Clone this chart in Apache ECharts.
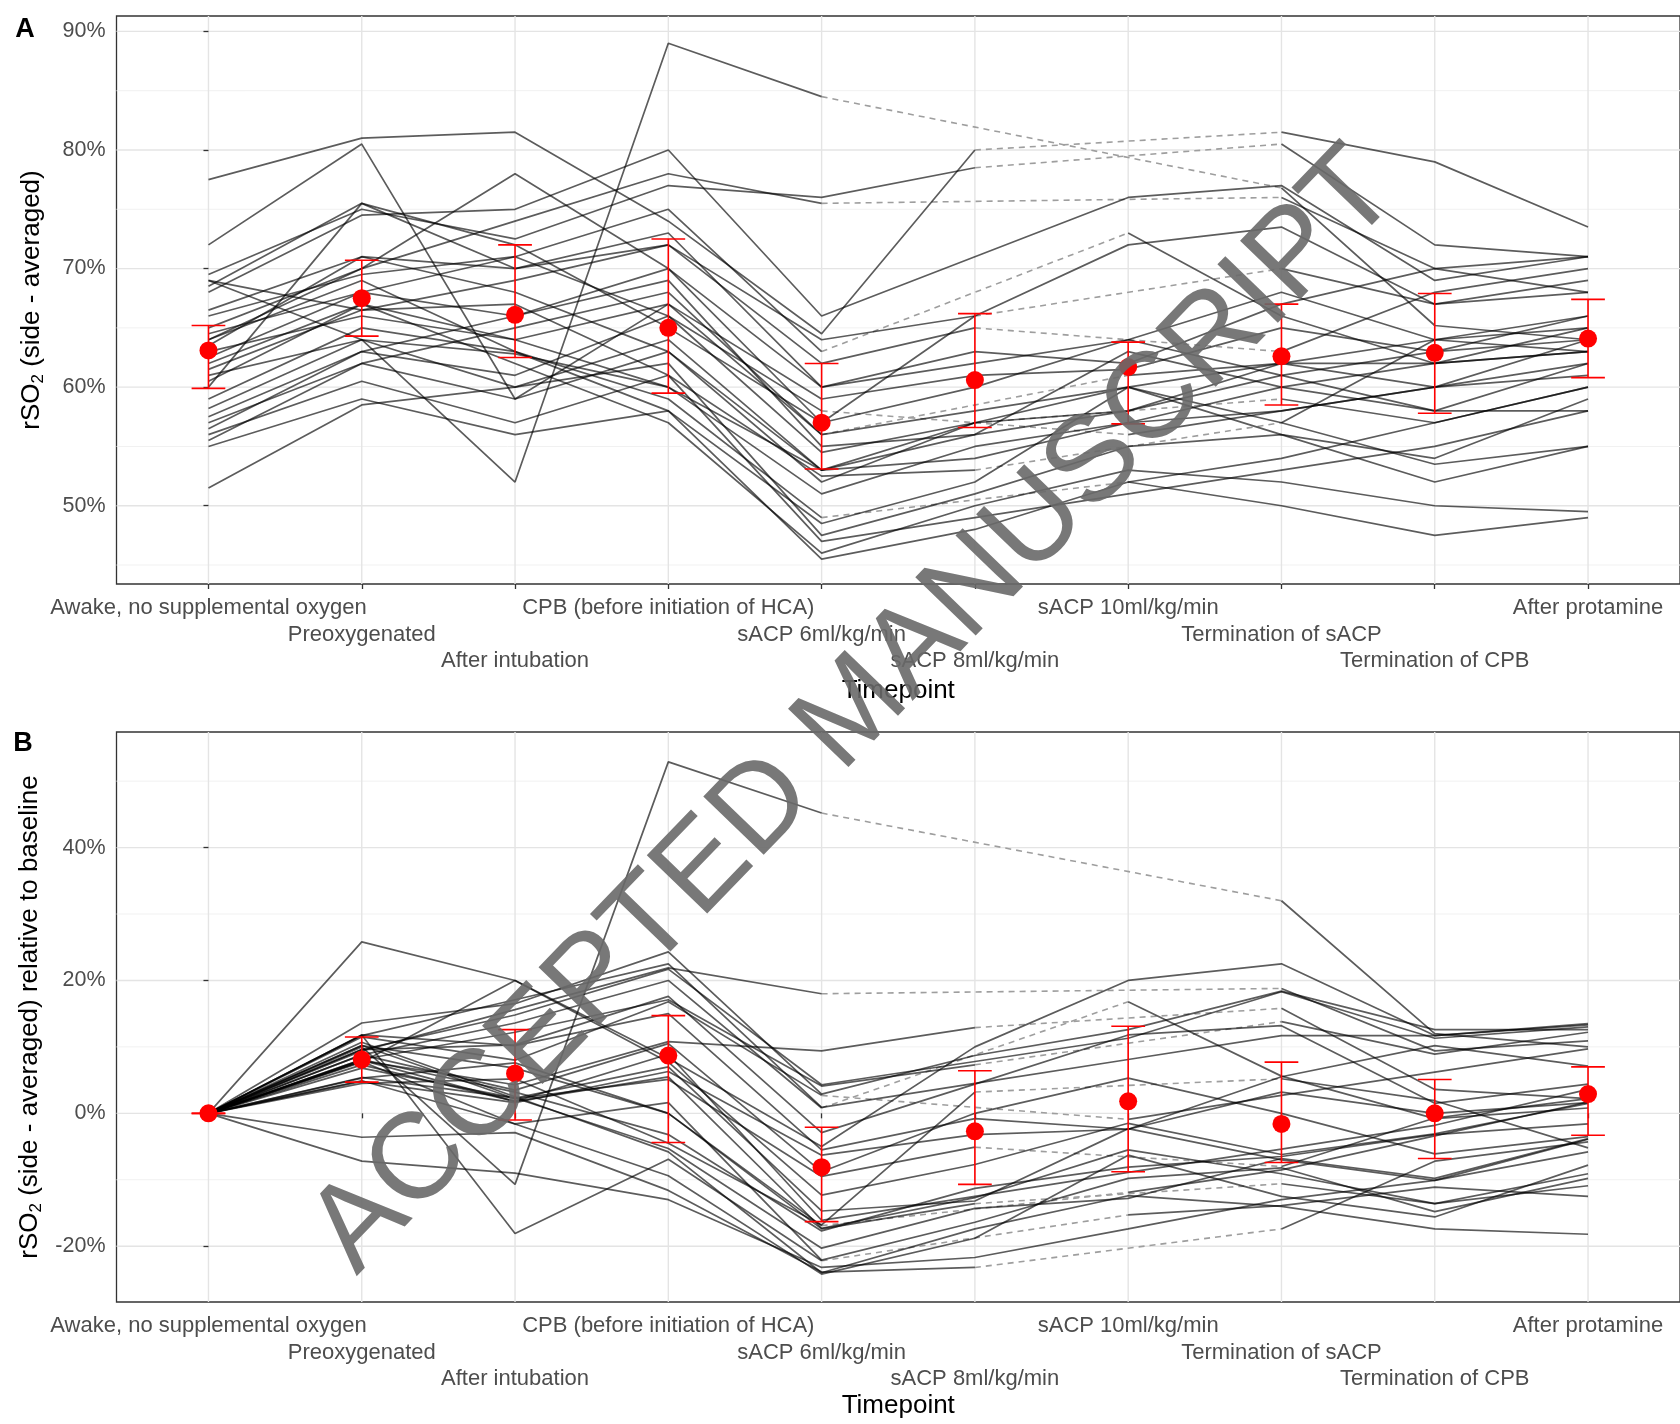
<!DOCTYPE html>
<html>
<head>
<meta charset="utf-8">
<script src="https://cdn.jsdelivr.net/npm/echarts@6/dist/echarts.min.js"></script>
<style>
html,body{margin:0;padding:0;background:#fff;}
#chart{width:1680px;height:1424px;}
</style>
</head>
<body>
<div id="chart"></div>
<script>
// ---- data ----
const timepoints = ["Awake, no supplemental oxygen","Preoxygenated","After intubation","CPB (before initiation of HCA)","sACP 6ml/kg/min","sACP 8ml/kg/min","sACP 10ml/kg/min","Termination of sACP","Termination of CPB","After protamine"];

// panel A: rSO2 (side-averaged), % per subject
const rso2Abs = [
 [77.5, 81, 81.5, 74, 64.5, 80, null, 81.5, 79, 73.5],
 [72, 80.5, 59, 67, 56, null, 61, 62, 64, 63],
 [64, 70, 74, 78, 75.5, null, null, 76, 70, 71],
 [69, 64, 62.8, 60, 53, 54, 57, 60, 62, 65],
 [69, 66.5, 67, 61, 52.5, 53, null, 57, 64, 66],
 [68.5, 75.5, 70, 72, 62, 65, null, 63, 68, 70],
 [68, 74.5, 75, 80, 66, 71, 76, 77, 69, 71],
 [66.5, 71, 68, 63, 53, 57, 58, 62, 60, 64],
 [69.5, 75, 72.5, 77, 76, 78.5, null, 80.5, 72, 71],
 [65, 70, 78, 70, 57, 60, 64, 61, 63, 66],
 [64.5, 68, 66, 69, 55, 56, 63, 60, 58, 62],
 [64, 69, 63, 58, 48.5, 52, 60, 56, 54, 59],
 [63.5, 71, 70, 73, 60, 63, 62, 67, 70, 68],
 [63, 66, 64, 67, 59, 61, 61.5, 65, 63, 64],
 [62.5, 68, 71, 75, 63, null, 73, 66, 62, 63],
 [62, 67, 64, 60, 51, 55, 57, 58, 60, 61],
 [61.5, 66.5, 69, 72, 64, 66, null, 70, 67, 69],
 [61, 64, 60, 62, 47.5, 51, 55, 56, 52, 55],
 [60.5, 67, 62, 57, 46, 50, 53, 52, 50, 49.5],
 [60, 75.5, 72, 65, 57, 66, 72, 73.5, 67, 68],
 [59, 65, 63, 59, 49, null, 52, 54, 57, 60],
 [58.2, 64, 52, 89, 84.5, null, null, 76.8, 65.2, 64],
 [57.5, 63, 66, 70, 60, 62, 64, 68, 64, 65],
 [57, 62, 59, 63, 52, 57, 60, 57, 53.5, 55],
 [56.5, 63, 61, 66, 58, null, 56, 58, 60, 62],
 [56, 60.5, 57, 61, 47, 49, 51, 53, 55, 58],
 [55.5, 62, 65, 68, 56, 58, 60, 62, 62, 63],
 [55, 59, 56, 58, 45.5, 48, 52, 50, 47.5, 49],
 [51.5, 58.5, 60, 64, 53, 56, 58, 61, 58, 58],
 [66, 69.5, 71, 66, 54.5, 57, null, 59, 57, 60]
];

// panel B: relative to baseline, % per subject
const rso2Rel = [
 [0, 4.5, 5.2, -4.5, -16.8, 3.2, null, 5.2, 1.9, -5.2],
 [0, 11.8, -18.1, -6.9, -22.2, null, -15.3, -13.9, -11.1, -12.5],
 [0, 9.4, 15.6, 21.9, 18.0, null, null, 18.8, 9.4, 10.9],
 [0, -7.2, -9.0, -13.0, -23.2, -21.7, -17.4, -13.0, -10.1, -5.8],
 [0, -3.6, -2.9, -11.6, -23.9, -23.2, null, -17.4, -7.2, -4.3],
 [0, 10.2, 2.2, 5.1, -9.5, -5.1, null, -8.0, -0.7, 2.2],
 [0, 9.6, 10.3, 17.6, -2.9, 4.4, 11.8, 13.2, 1.5, 4.4],
 [0, 6.8, 2.3, -5.3, -20.3, -14.3, -12.8, -6.8, -9.8, -3.8],
 [0, 7.9, 4.3, 10.8, 9.4, 12.9, null, 15.8, 3.6, 2.2],
 [0, 7.7, 20.0, 7.7, -12.3, -7.7, -1.5, -6.2, -3.1, 1.5],
 [0, 5.4, 2.3, 7.0, -14.7, -13.2, -2.3, -7.0, -10.1, -3.9],
 [0, 7.8, -1.6, -9.4, -24.2, -18.8, -6.3, -12.5, -15.6, -7.8],
 [0, 11.8, 10.2, 15.0, -5.5, -0.8, -2.4, 5.5, 10.2, 7.1],
 [0, 4.8, 1.6, 6.3, -6.3, -3.2, -2.4, 3.2, 0, 1.6],
 [0, 8.8, 13.6, 20.0, 0.8, null, 16.8, 5.6, -0.8, 0.8],
 [0, 8.1, 3.2, -3.2, -17.7, -11.3, -8.1, -6.5, -3.2, -1.6],
 [0, 8.1, 12.2, 17.1, 4.1, 7.3, null, 13.8, 8.9, 12.2],
 [0, 4.9, -1.6, 1.6, -22.1, -16.4, -9.8, -8.2, -14.8, -9.8],
 [0, 10.7, 2.5, -5.8, -24.0, -17.4, -12.4, -14.0, -17.4, -18.2],
 [0, 25.8, 20.0, 8.3, -5.0, 10.0, 20.0, 22.5, 11.7, 13.3],
 [0, 10.2, 6.8, 0, -16.9, null, -11.9, -8.5, -3.4, 1.7],
 [0, 10.0, -10.7, 52.9, 45.2, null, null, 32.0, 12.0, 10.0],
 [0, 9.6, 14.8, 21.7, 4.3, 7.8, 11.3, 18.3, 11.3, 13.0],
 [0, 8.8, 3.5, 10.5, -8.8, 0, 5.3, 0, -6.1, -3.5],
 [0, 11.5, 8.0, 16.8, 2.7, null, -0.9, 2.7, 6.2, 9.7],
 [0, 8.0, 1.8, 8.9, -16.1, -12.5, -8.9, -5.4, -1.8, 3.6],
 [0, 11.7, 17.1, 22.5, 0.9, 4.5, 8.1, 11.7, 11.7, 13.5],
 [0, 7.3, 1.8, 5.5, -17.3, -12.7, -5.5, -9.1, -13.6, -10.9],
 [0, 13.6, 16.5, 24.3, 2.9, 8.7, 12.6, 18.4, 12.6, 12.6],
 [0, 5.3, 7.6, 0, -17.4, -13.6, null, -10.6, -13.6, -9.1]
];

// summary points with error bars
const meanAbs = [63.1, 67.5, 66.1, 65.0, 57.0, 60.6, 61.7, 62.6, 62.9, 64.1];
const lowAbs  = [59.9, 64.3, 62.5, 59.5, 53.1, 56.6, 56.9, 58.5, 57.8, 60.8];
const highAbs = [65.2, 70.7, 72.0, 72.5, 62.0, 66.2, 63.8, 67.0, 67.9, 67.4];
const meanRel = [0, 8.1, 6.0, 8.7, -8.1, -2.7, 1.8, -1.6, 0.0, 2.9];
const lowRel  = [0, 4.7, -1.0, -4.4, -16.3, -10.7, -8.8, -7.4, -6.8, -3.3];
const highRel = [0, 11.5, 12.6, 14.7, -2.1, 6.4, 13.1, 7.7, 5.1, 7.0];

// axis ticks
const majorAbs = [50, 60, 70, 80, 90];
const minorAbs = [45, 55, 65, 75, 85];
const majorRel = [-20, 0, 20, 40];
const minorRel = [-10, 10, 30, 50];
const catIdx = [0,1,2,3,4,5,6,7,8,9];
const labelRows = [[0,3,6,9],[1,4,7],[2,5,8]];

// ---- chart ----
const FONT = '"Liberation Sans", Arial, Helvetica, sans-serif';
const chart = echarts.init(document.getElementById('chart'), null, {renderer:'canvas'});

function gridRender(params, api){
  const cs = params.coordSys;
  const kind = api.value(2);
  const p = api.coord([api.value(0), api.value(1)]);
  if (kind === 2) {
    return {type:'line', shape:{x1:p[0], y1:cs.y, x2:p[0], y2:cs.y+cs.height},
      style:{stroke:'#e4e4e4', lineWidth:1.4}};
  }
  return {type:'line', shape:{x1:cs.x, y1:p[1], x2:cs.x+cs.width, y2:p[1]},
    style:{stroke: kind===1 ? '#e4e4e4' : '#f1f1f1', lineWidth: kind===1 ? 1.4 : 1}};
}
function errRender(params, api){
  const x = api.value(0), lo = api.value(1), hi = api.value(2);
  const pl = api.coord([x, lo]), ph = api.coord([x, hi]);
  const l = api.coord([x-0.11, lo])[0], r = api.coord([x+0.11, lo])[0];
  const st = {stroke:'#ff0000', lineWidth:1.6};
  return {type:'group', children:[
    {type:'line', shape:{x1:pl[0], y1:pl[1], x2:ph[0], y2:ph[1]}, style:st},
    {type:'line', shape:{x1:l, y1:pl[1], x2:r, y2:pl[1]}, style:st},
    {type:'line', shape:{x1:l, y1:ph[1], x2:r, y2:ph[1]}, style:st}
  ]};
}
function gapData(row){
  // keep only points that border a missing stretch
  const idx = [];
  row.forEach((v,i)=>{ if (v!==null) idx.push(i); });
  const out = row.map(()=>null);
  for (let k=0;k<idx.length-1;k++){
    if (idx[k+1]-idx[k] > 1){ out[idx[k]] = row[idx[k]]; out[idx[k+1]] = row[idx[k+1]]; }
  }
  return out.map((v,i)=>[i, v]);
}

const series = [];
function addPanel(gi, xi, rows, mean, low, high, major, minor){
  const gdata = [];
  major.forEach(v=>gdata.push([0, v, 1]));
  minor.forEach(v=>gdata.push([0, v, 0]));
  catIdx.forEach(i=>gdata.push([i, major[0], 2]));
  series.push({type:'custom', xAxisIndex:xi, yAxisIndex:gi, renderItem:gridRender,
    data:gdata, z:0, silent:true, animation:false, clip:true});
  rows.forEach(row=>{
    if (row.some(v=>v===null)) {
      series.push({type:'line', xAxisIndex:xi, yAxisIndex:gi, data:gapData(row),
        connectNulls:true, showSymbol:false, symbol:'none', silent:true, animation:false, z:1,
        lineStyle:{color:'#9e9e9e', width:1.6, type:[6,5]}});
    }
    series.push({type:'line', xAxisIndex:xi, yAxisIndex:gi, data:row.map((v,i)=>[i,v]),
      connectNulls:false, showSymbol:false, symbol:'none', silent:true, animation:false, z:2,
      lineStyle:{color:'rgba(0,0,0,0.64)', width:1.7}});
  });
  series.push({type:'custom', xAxisIndex:xi, yAxisIndex:gi, renderItem:errRender,
    data: catIdx.map(i=>[i, low[i], high[i]]), encode:{x:0, y:[1,2]}, z:5, silent:true, animation:false});
  series.push({type:'scatter', xAxisIndex:xi, yAxisIndex:gi, data: catIdx.map(i=>[i, mean[i]]),
    symbolSize:18, itemStyle:{color:'#ff0000', opacity:1}, z:6, silent:true, animation:false});
}
addPanel(0, 0, rso2Abs, meanAbs, lowAbs, highAbs, majorAbs, minorAbs);
addPanel(1, 3, rso2Rel, meanRel, lowRel, highRel, majorRel, minorRel);

function xAxisRow(gi, row, gap){
  const ax = {type:'value', gridIndex:gi, min:-0.6, max:9.6, position:'bottom', offset: row*26.5,
    axisLine:{show:false}, splitLine:{show:false},
    axisTick:{show: row===0, customValues:catIdx, length:5, inside:false, lineStyle:{color:'#333', width:1.3}},
    axisLabel:{customValues:labelRows[row], fontSize:22, color:'#4d4d4d', fontFamily:FONT, margin:11, lineHeight:26.5,
      showMinLabel:true, showMaxLabel:true, hideOverlap:false,
      formatter:(v)=>timepoints[Math.round(v)]}
  };
  if (row===0) {
    ax.name = 'Timepoint'; ax.nameLocation = 'middle'; ax.nameGap = gap;
    ax.nameTextStyle = {fontSize:26, color:'#000', fontFamily:FONT};
  }
  return ax;
}
function yAxisCfg(gi, min, max, ticks, nameRich){
  return {type:'value', gridIndex:gi, min:min, max:max,
    name:nameRich, nameLocation:'middle', nameGap:70,
    nameTextStyle:{color:'#000', fontFamily:FONT, rich:{
      n:{fontSize:26, lineHeight:30, color:'#000', fontFamily:FONT},
      s:{fontSize:17, lineHeight:18, verticalAlign:'bottom', color:'#000', fontFamily:FONT}}},
    axisLine:{show:false}, splitLine:{show:false},
    axisTick:{show:true, customValues:ticks, length:5, lineStyle:{color:'#333', width:1.3}},
    axisLabel:{customValues:ticks, fontSize:21.5, color:'#4d4d4d', fontFamily:FONT, margin:11,
      showMinLabel:true, showMaxLabel:true,
      formatter:(v)=>Math.round(v)+'%'}
  };
}

const option = {
  backgroundColor:'#ffffff',
  animation:false,
  grid:[
    {left:116.5, right:-8, top:16, bottom:840, show:true, borderColor:'#333', borderWidth:1.3, backgroundColor:'transparent', containLabel:false},
    {left:116.5, right:-8, top:732, bottom:122, show:true, borderColor:'#333', borderWidth:1.3, backgroundColor:'transparent', containLabel:false}
  ],
  xAxis:[xAxisRow(0,0,94), xAxisRow(0,1), xAxisRow(0,2), xAxisRow(1,0,91), xAxisRow(1,1), xAxisRow(1,2)],
  yAxis:[
    yAxisCfg(0, 43.4, 91.3, majorAbs, '{n|rSO}{s|2}{n| (side - averaged)}'),
    yAxisCfg(1, -28.4, 57.4, majorRel, '{n|rSO}{s|2}{n| (side - averaged) relative to baseline}')
  ],
  series: series,
  graphic:[
    {type:'text', x:25, y:30, z:50, style:{text:'A', fontSize:27, fontWeight:'bold', fontFamily:FONT, fill:'#000', align:'center', verticalAlign:'middle'}},
    {type:'text', x:23, y:744, z:50, style:{text:'B', fontSize:27, fontWeight:'bold', fontFamily:FONT, fill:'#000', align:'center', verticalAlign:'middle'}},
    {type:'text', x:855, y:712, z:100, rotation:46*Math.PI/180,
      style:{text:'ACCEPTED MANUSCRIPT', fontSize:122, fontFamily:FONT, fill:'rgba(105,105,105,0.9)', align:'center', verticalAlign:'middle'}}
  ]
};
chart.setOption(option);
</script>
</body>
</html>
